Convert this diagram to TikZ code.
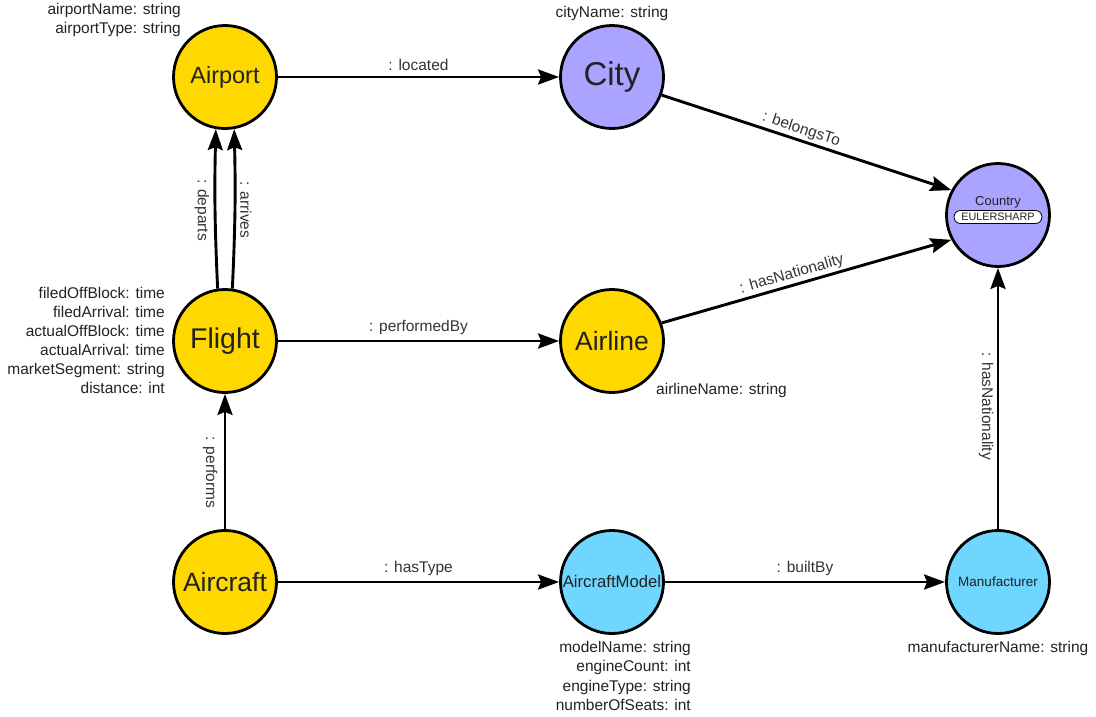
\documentclass[tikz,border=0pt]{standalone}
\usepackage{fontspec}
\setmainfont{Liberation Sans}
\usetikzlibrary{arrows.meta}
\definecolor{ynode}{HTML}{FFD800}
\definecolor{pnode}{HTML}{AAA3FF}
\definecolor{cnode}{HTML}{6FD6FF}
\definecolor{txt}{HTML}{222222}
\definecolor{lbl}{HTML}{333333}
\begin{document}
\begin{tikzpicture}[x=1pt,y=-1pt,
  ent/.style={circle,draw=black,line width=2.8pt,minimum size=103pt,inner sep=0pt,text=txt},
  yent/.style={ent,fill=ynode},
  pent/.style={ent,fill=pnode},
  cent/.style={ent,fill=cnode},
  rel/.style={line width=2.9pt,-{Stealth[length=21pt,width=15pt,inset=3pt]}},
  elab/.style={font=\fontsize{15.5}{18}\selectfont,text=lbl,inner sep=2pt},
  attr/.style={font=\fontsize{15.5}{19.5}\selectfont,text=txt,inner sep=0pt}
]
\useasboundingbox (0,0) rectangle (1096,716);
% nodes
\node[yent,font=\fontsize{23.5}{26}\selectfont] (airport) at (225,77) {Airport};
\node[pent,font=\fontsize{33}{36}\selectfont] (city) at (612,77) {City};
\node[pent] (country) at (998,215) {};
\node[font=\fontsize{13}{15}\selectfont,text=txt,inner sep=0pt] (countrylbl) at (998,202) {Country};
\node[draw=black,fill=white,rounded corners=6.5pt,line width=0.8pt,minimum width=88pt,minimum height=13pt,inner sep=0pt,font=\fontsize{10.8}{12}\selectfont,text=txt] (euler) at (998,217) {EULERSHARP};
\node[yent,font=\fontsize{28.5}{31}\selectfont] (flight) at (225,341) {Flight};
\node[yent,font=\fontsize{26.5}{29}\selectfont] (airline) at (612,341) {Airline};
\node[yent,font=\fontsize{26.5}{29}\selectfont] (aircraft) at (225,582) {Aircraft};
\node[cent,font=\fontsize{16.7}{19}\selectfont] (model) at (612,582) {AircraftModel};
\node[cent,font=\fontsize{13.5}{16}\selectfont] (manu) at (998,582) {Manufacturer};
% attributes
\node[attr,align=right,anchor=north east] (airportattr) at (181,3) {airportName: string\\airportType: string};
\node[attr,anchor=north] (cityattr) at (612,6) {cityName: string};
\node[attr,align=right,anchor=north east,font=\fontsize{15.5}{19}\selectfont] (flightattr) at (165,287) {filedOffBlock: time\\filedArrival: time\\actualOffBlock: time\\actualArrival: time\\marketSegment: string\\distance: int};
\node[attr,anchor=north west] (airlineattr) at (656,383) {airlineName: string};
\node[attr,align=right,anchor=north east] (modelattr) at (691,641) {modelName: string\\engineCount: int\\engineType: string\\numberOfSeats: int};
\node[attr,anchor=north] (manuattr) at (998,641) {manufacturerName: string};
% edges
\draw[rel] (airport) -- node[elab,above=3pt] {: located} (city);
\draw[rel] (city.-20) -- node[elab,above,sloped,pos=0.47] {: belongsTo} (country.152);
\draw[rel] (airline.20) -- node[elab,above,sloped,pos=0.46] {: hasNationality} (country.-152);
\draw[rel] (flight) -- node[elab,above=3pt] {: performedBy} (airline);
\draw[rel] (flight.98) to[bend left=2] (airport.-100);
\draw[rel] (flight.82) to[bend right=2] (airport.-80);
\node[elab,rotate=-90] (deplab) at (202,210) {: departs};
\node[elab,rotate=-90] (arrlab) at (246,210) {: arrives};
\draw[rel] (aircraft) -- node[elab,rotate=-90,pos=0.42,yshift=-15pt] {: performs} (flight);
\draw[rel] (aircraft) -- node[elab,above=3pt] {: hasType} (model);
\draw[rel] (model) -- node[elab,above=3pt] {: builtBy} (manu);
\draw[rel] (manu) -- node[elab,rotate=-90,pos=0.47,yshift=-12pt] {: hasNationality} (country);
\end{tikzpicture}
\end{document}
